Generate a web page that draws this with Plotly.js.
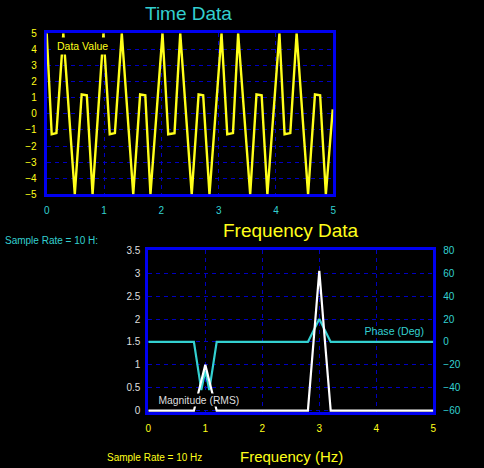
<!DOCTYPE html>
<html>
<head>
<meta charset="utf-8">
<script src="https://cdn.plot.ly/plotly-3.0.1.min.js"></script>
<style>html,body{margin:0;padding:0;background:#000;}#chart{width:484px;height:468px;}</style>
</head>
<body>
<div id="chart"></div>
<script>
// Time Data (seconds, value)
var timeSec = [0, 0.087, 0.17, 0.29, 0.49, 0.61, 0.70, 0.80, 0.99, 1.10, 1.19, 1.31, 1.51, 1.63, 1.72, 1.81, 2.02, 2.12, 2.23, 2.33, 2.53, 2.65, 2.73, 2.84, 3.05, 3.15, 3.25, 3.34, 3.55, 3.66, 3.75, 3.85, 4.06, 4.15, 4.25, 4.36, 4.56, 4.68, 4.77, 4.87, 4.99];
var dataValue = [5, -1.27, -1.2, 5, -5, 1.2, 1.15, -5, 5, -1.27, -1.2, 5, -5, 1.2, 1.15, -5, 5, -1.27, -1.2, 5, -5, 1.2, 1.15, -5, 5, -1.27, -1.2, 5, -5, 1.2, 1.15, -5, 5, -1.27, -1.2, 5, -5, 1.2, 1.15, -5, 0.28];

// Frequency Data
var freqMagHz = [0, 0.8, 0.9, 1.0, 1.1, 1.2, 2.8, 2.9, 3.0, 3.1, 3.2, 5];
var magnitudeRMS = [0, 0, 0.5, 1.0, 0.5, 0, 0, 1.5, 3.05, 1.5, 0, 0];
var freqPhaseHz = [0, 0.8, 0.93, 1.0, 1.07, 1.2, 2.8, 3.0, 3.2, 5];
var phaseDeg = [0, 0, -42, -25, -42, 0, 0, 20, 0, 0];

var timeTicks = [0, 1, 2, 3, 4, 5];
var valueTicks = [-5, -4, -3, -2, -1, 0, 1, 2, 3, 4, 5];
var freqTicks = [0, 1, 2, 3, 4, 5];
var magTicks = [0, 0.5, 1, 1.5, 2, 2.5, 3, 3.5];
var magTickText = ['0', '0.5', '1', '1.5', '2', '2.5', '3', '3.5'];
var phaseTicks = [-60, -40, -20, 0, 20, 40, 60, 80];

var W = 484, H = 468;
function px(x) { return x / W; }
function py(y) { return 1 - y / H; }

var YEL = '#ffff1a', CYAN = '#33d0d0', GREY = '#dedede';
var FRAME = '#0000f0', GRID = '#0000c0';

var traces = [
  {x: timeSec, y: dataValue, xaxis: 'x', yaxis: 'y', type: 'scatter', mode: 'lines',
   line: {color: YEL, width: 2.4}, hoverinfo: 'skip'},
  {x: freqPhaseHz, y: phaseDeg, xaxis: 'x2', yaxis: 'y3', type: 'scatter', mode: 'lines',
   line: {color: CYAN, width: 2.2}, hoverinfo: 'skip'},
  {x: freqMagHz, y: magnitudeRMS, xaxis: 'x2', yaxis: 'y4', type: 'scatter', mode: 'lines',
   line: {color: '#ffffff', width: 2.2}, hoverinfo: 'skip'}
];

var axCommon = {
  showline: true, mirror: true, linecolor: FRAME, linewidth: 3,
  showgrid: true, gridcolor: GRID, gridwidth: 1, griddash: '4px,4px',
  zeroline: false, ticks: 'outside', ticklen: 5, tickcolor: 'rgba(0,0,0,0)',
  fixedrange: true, layer: 'below traces'
};

var layout = {
  width: W, height: H,
  margin: {l: 0, r: 0, t: 0, b: 0},
  paper_bgcolor: '#000', plot_bgcolor: '#000',
  font: {family: 'Liberation Sans, Arial, sans-serif', size: 10},
  showlegend: false,
  xaxis: Object.assign({}, axCommon, {
    domain: [px(46.7), px(333.3)], anchor: 'y', range: [0, 5],
    tickvals: timeTicks, tickfont: {color: CYAN, size: 10}
  }),
  yaxis: Object.assign({}, axCommon, {
    domain: [py(194.3), py(33.3)], anchor: 'x', range: [-5, 5],
    tickvals: valueTicks, tickfont: {color: YEL, size: 10}
  }),
  xaxis2: Object.assign({}, axCommon, {
    domain: [px(148.3), px(433.3)], anchor: 'y3', range: [0, 5],
    tickvals: freqTicks, tickfont: {color: YEL, size: 10}
  }),
  yaxis3: Object.assign({}, axCommon, {
    domain: [py(412.3), py(250.3)], anchor: 'x2', side: 'right', range: [-61.4, 80],
    tickvals: phaseTicks, tickfont: {color: CYAN, size: 10}
  }),
  yaxis4: Object.assign({}, axCommon, {
    overlaying: 'y3', anchor: 'x2', side: 'left', range: [-0.035, 3.5],
    showgrid: false, showline: false,
    tickvals: magTicks, ticktext: magTickText, tickfont: {color: GREY, size: 10}
  }),
  annotations: [
    {text: 'Time Data', xref: 'paper', yref: 'paper', x: px(188), y: py(13), xanchor: 'center', yanchor: 'middle',
     showarrow: false, font: {color: CYAN, size: 19}},
    {text: 'Frequency Data', xref: 'paper', yref: 'paper', x: px(291.3), y: py(230.7), xanchor: 'center', yanchor: 'middle',
     showarrow: false, font: {color: YEL, size: 19}},
    {text: 'Frequency (Hz)', xref: 'paper', yref: 'paper', x: px(291.7), y: py(456.7), xanchor: 'center', yanchor: 'middle',
     showarrow: false, font: {color: YEL, size: 15}},
    {text: 'Sample Rate = 10 H:', xref: 'paper', yref: 'paper', x: px(3), y: py(240.7), xanchor: 'left', yanchor: 'middle',
     showarrow: false, font: {color: CYAN, size: 10}},
    {text: 'Sample Rate = 10 Hz', xref: 'paper', yref: 'paper', x: px(154), y: py(457.3), xanchor: 'center', yanchor: 'middle',
     showarrow: false, font: {color: YEL, size: 10}},
    {text: 'Data Value', xref: 'paper', yref: 'paper', x: px(82), y: py(45.8), xanchor: 'center', yanchor: 'middle',
     showarrow: false, font: {color: YEL, size: 10.5}, bgcolor: '#000', borderpad: 2},
    {text: 'Magnitude (RMS)', xref: 'paper', yref: 'paper', x: px(198.8), y: py(400), xanchor: 'center', yanchor: 'middle',
     showarrow: false, font: {color: GREY, size: 10.3}, bgcolor: '#000', borderpad: 0.5},
    {text: 'Phase (Deg)', xref: 'paper', yref: 'paper', x: px(394), y: py(330), xanchor: 'center', yanchor: 'middle',
     showarrow: false, font: {color: CYAN, size: 10.6}, bgcolor: 'rgba(0,0,0,0)', borderpad: 0.5}
  ]
};

Plotly.newPlot('chart', traces, layout, {staticPlot: true, displayModeBar: false});
</script>
</body>
</html>
